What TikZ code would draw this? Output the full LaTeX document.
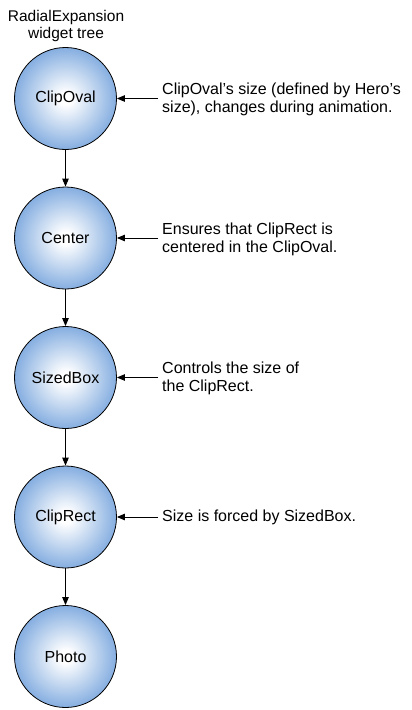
\documentclass[tikz,border=0pt]{standalone}
\usepackage{fontspec}
\setmainfont{Liberation Sans}
\usetikzlibrary{arrows.meta}
\definecolor{nodeblue}{RGB}{100,152,216}
\pgfdeclareradialshading{nodeglow}{\pgfpoint{0bp}{0bp}}{%
  color(0bp)=(white); color(3bp)=(white); color(31bp)=(nodeblue); color(50bp)=(nodeblue)}
\tikzset{
  x=1pt,y=-1pt,
  treenode/.style={circle,draw=black,line width=0.8pt,minimum size=102pt,inner sep=0pt,
    shading=nodeglow,font=\fontsize{16pt}{18pt}\selectfont},
  link/.style={draw=black,line width=0.9pt,-{Triangle[length=8pt,width=6.5pt]}},
  note/.style={anchor=west,inner sep=0pt,align=left,font=\fontsize{16pt}{18pt}\selectfont},
  titletext/.style={align=center,inner sep=0pt,font=\fontsize{15.5pt}{16.8pt}\selectfont}
}
\begin{document}
\begin{tikzpicture}
\useasboundingbox (0,0) rectangle (412,710);
\node[titletext] (title) at (66,26) {RadialExpansion\\widget tree};
\node[treenode] (n1) at (65.5,98.5) {ClipOval};
\node[treenode] (n2) at (65.5,238) {Center};
\node[treenode] (n3) at (65.5,377.5) {SizedBox};
\node[treenode] (n4) at (65.5,517) {ClipRect};
\node[treenode] (n5) at (65.5,656.5) {Photo};
\draw[link] (n1) -- (n2);
\draw[link] (n2) -- (n3);
\draw[link] (n3) -- (n4);
\draw[link] (n4) -- (n5);
\node[note] (t1) at (162,99.5) {ClipOval’s size (defined by Hero’s\\size), changes during animation.};
\node[note] (t2) at (162,239) {Ensures that ClipRect is\\centered in the ClipOval.};
\node[note] (t3) at (162,378.5) {Controls the size of\\the ClipRect.};
\node[note] (t4) at (162,517) {Size is forced by SizedBox.};
\coordinate (c1) at (158,98.5);
\coordinate (c2) at (158,238);
\coordinate (c3) at (158,377.5);
\coordinate (c4) at (158,517);
\draw[link] (c1) -- (n1.east);
\draw[link] (c2) -- (n2.east);
\draw[link] (c3) -- (n3.east);
\draw[link] (c4) -- (n4.east);
\end{tikzpicture}
\end{document}
